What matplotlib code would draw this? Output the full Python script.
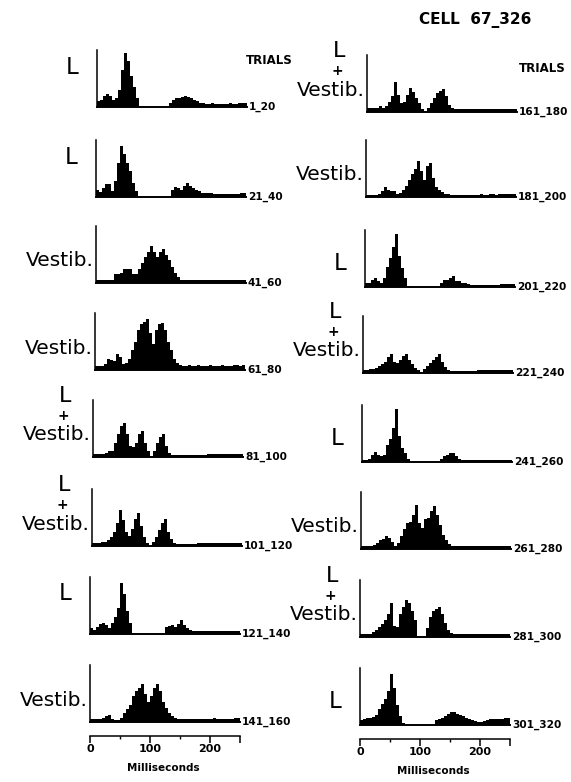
import numpy as np
import matplotlib
matplotlib.use("Agg")
import matplotlib.pyplot as plt

# Peri-stimulus histograms, 5 ms bins, 0-250 ms (height in arbitrary units, axis top = 20)
BIN_MS = 5
t_1_20 = [2, 2.5, 4, 4.5, 4, 2.5, 3, 6, 13, 19, 16, 11, 7, 3, 0.5,
          0, 0, 0, 0, 0, 0, 0, 0, 0,
          1.5, 2.5, 3, 3, 3.5, 4, 3.5, 3, 2.5, 2, 1.5, 1.5, 1, 1, 1.5, 1, 1, 1, 1, 1, 1.5, 1, 1, 1.5, 1.5, 1.5]
t_21_40 = [2.5, 1.8, 3, 4.5, 4.5, 2, 5.5, 12, 18, 15, 12, 9, 5, 2, 0,
           0, 0, 0, 0, 0, 0, 0, 0, 0, 0,
           2.5, 3.5, 3, 2.5, 4, 5, 4, 3, 2.5, 2, 1.5, 1.5, 1.5, 1.5, 1.2, 1.2, 1.2, 1, 1, 1, 1, 1, 1, 1.3, 1.3]
t_41_60 = [1, 1, 1, 1, 1, 1, 3, 3, 3.5, 5, 5, 5, 3, 3, 5, 7, 9, 11, 13, 11, 9, 11, 12, 10, 8, 5.5, 3.5, 2, 1,
           1, 0.9, 1, 1, 0.9, 1, 1, 1, 0.9, 1, 1, 1, 0.9, 1, 1, 1, 1, 1, 1, 1, 1.1]
t_61_80 = [1.5, 1.5, 1.5, 2, 4, 3.5, 3, 5.5, 4.5, 2, 2.5, 4, 7, 10, 14, 16, 17, 18, 13, 9, 14, 16, 16.5, 14, 10, 7, 4, 2.5, 1.8,
           1.5, 1.5, 1.8, 1.5, 1.5, 1.8, 1.5, 1.5, 1.5, 1.8, 1.5, 1.5, 1.5, 1.8, 1.5, 1.5, 1.5, 1.8, 1.8, 1.5, 1.8]
t_81_100 = [1, 1, 1.2, 1.2, 1.5, 2, 2, 5, 8, 11, 12, 8, 4, 3.5, 5, 8, 9, 5, 2, 0.5, 2, 5, 7, 8, 4, 1.5,
            0.7, 0.7, 0.7, 0.7, 0.7, 0.7, 0.7, 0.7, 0.7, 0.7, 0.7, 0.7,
            1.2, 1.2, 1, 1.2, 1.2, 1.2, 1, 1.2, 1.2, 1.2, 1.2, 1.2]
t_101_120 = [1, 1, 1.2, 1.5, 1.5, 2, 3, 5, 8, 12.5, 9, 5, 3.5, 6, 9.5, 11.5, 7, 3, 1, 0, 1.5, 3, 5.5, 8, 9.5, 5, 2.5, 1.2,
             0.8, 0.8, 0.8, 0.8, 0.8, 0.8, 0.8,
             1.2, 1.2, 1.2, 1, 1.2, 1.2, 1.2, 1.2, 1, 1.2, 1.2, 1.2, 1.2, 1.2, 1.2]
t_121_140 = [2, 1.5, 2.5, 3.5, 4, 3, 2, 4, 6, 9, 18, 14, 8, 4, 0.5,
             0, 0, 0, 0, 0, 0, 0, 0, 0, 0,
             2.5, 2.8, 3, 2.5, 3.5, 5, 3, 2, 1.5, 1.2,
             1, 1, 1, 1, 1, 1, 1, 1, 1, 1, 1, 1, 1, 1, 1]
t_141_160 = [1.2, 1.2, 1.2, 1.2, 1.5, 2, 2.5, 1.2, 0.7, 0.7, 1.5, 3, 4.5, 6, 9, 11, 12, 13.5, 10, 7, 9, 12, 13.5, 11, 7, 5, 3, 2, 1.5,
             1.2, 1.2, 1.2, 1.2, 1.2, 1.2, 1.2, 1.2, 1.2, 1.2, 1.2, 1.2, 1.5, 1.2, 1.2, 1.2, 1.2, 1.2, 1.2, 1.4, 1.4]

t_161_180 = [1.5, 1.5, 1.5, 1.5, 2.2, 1.5, 2, 3.5, 5.5, 10.5, 6, 3, 3.5, 6, 8.5, 7, 5, 3, 1, 0.3, 1.5, 3, 5, 6.5, 7.5, 8.2, 5.5, 2.5, 1.5,
             0.9, 0.9, 0.9, 0.9, 0.9, 0.9, 0.9, 0.9, 0.9, 0.9, 0.9, 0.9, 0.9, 0.9, 0.9, 0.9, 0.9, 0.9, 0.9, 0.9, 0.9]
t_181_200 = [0.8, 0.8, 0.8, 0.8, 1, 2, 3.5, 2.5, 2, 2, 1.2, 1.5, 2.5, 4, 6, 8, 10, 12.5, 9, 6, 11, 12, 6.5, 3.5, 2.5, 1.8, 1.2, 1,
             0.8, 0.8, 0.8, 0.8, 0.8, 0.8, 0.8, 0.8, 0.8, 0.8, 1, 0.8, 0.8, 1, 1, 0.8, 1, 1, 1, 1, 1, 1]
t_201_220 = [1.5, 1.5, 2.5, 3, 2, 1.5, 3, 7, 10, 14, 18.5, 11, 6.5, 3, 0.5,
             0, 0, 0, 0, 0, 0, 0, 0, 0, 0,
             1.5, 2.5, 2.5, 3, 4, 2.2, 2, 1.5, 1.5, 1.2,
             0.8, 0.8, 0.8, 0.8, 0.8, 0.8, 0.8, 0.8, 0.8, 0.8, 1.2, 1.2, 1.2, 1.2, 1.2]
t_221_240 = [1.2, 1.2, 1.5, 1.5, 1.8, 2.5, 3, 4, 5.5, 6.5, 4, 3.5, 4.5, 6, 6.5, 4.5, 3, 1.8, 1, 0.3, 1.5, 2.5, 3.5, 4.5, 5.5, 6.5, 4, 2, 1,
             0.6, 0.6, 0.6, 0.6, 0.6, 0.6, 0.6, 0.6, 0.6,
             1, 1, 1, 1, 1, 1, 1, 1, 1, 1, 1, 1]
t_241_260 = [0.8, 0.8, 1.2, 2.5, 3.5, 2.5, 2, 2.5, 6, 8, 12, 18.5, 9, 5, 3, 1,
             0, 0, 0, 0, 0, 0, 0, 0, 0, 0,
             1, 2, 2.5, 3, 3, 2, 1.2,
             0.8, 0.8, 0.8, 0.8, 0.8, 0.8, 0.8, 0.8, 0.8, 0.8, 0.8, 0.8, 0.8, 0.8, 0.8, 0.8, 0.8]
t_261_280 = [1, 1, 1, 1, 1.5, 2.2, 3, 3.5, 4.5, 4, 2.5, 1.2, 2, 4.5, 7, 9, 9.5, 12, 15.5, 9, 7.5, 10.5, 11, 13.5, 15, 12, 8.5, 5, 3, 1.8, 1.2,
             1, 1, 1, 1, 1, 1, 1, 1, 1, 1, 1, 1, 1, 1, 1, 1, 1, 1, 1]
t_281_300 = [1.2, 1.2, 1.2, 1.2, 1.8, 2.5, 3.5, 4.5, 6, 8, 12, 4, 3.5, 8, 10.5, 13, 12, 9, 6, 0.5, 0, 0, 3, 7, 9, 10, 10.4, 8, 5, 2.5, 1.5,
             0.9, 0.9, 0.9, 1.2, 0.9, 0.9, 0.9, 1.2, 0.9, 0.9, 0.9, 0.9, 1.2, 0.9, 0.9, 0.9, 0.9, 0.9, 0.9]
t_301_320 = [1.8, 2.2, 2.5, 2.5, 2.8, 3.5, 5.5, 7.5, 9, 12, 18, 13, 7, 3, 0.8,
             0, 0, 0, 0, 0, 0, 0, 0, 0, 0,
             1.8, 2, 2.5, 3, 4, 4.5, 4.5, 4, 3.5, 3, 2.5, 2.2, 1.8, 1.5, 1.2, 1.2, 1.5, 1.8, 2, 2, 2.2, 2.2, 2.2, 2.4, 2.4]

left_hists = [t_1_20, t_21_40, t_41_60, t_61_80, t_81_100, t_101_120, t_121_140, t_141_160]
right_hists = [t_161_180, t_181_200, t_201_220, t_221_240, t_241_260, t_261_280, t_281_300, t_301_320]
left_trials = ["1_20", "21_40", "41_60", "61_80", "81_100", "101_120", "121_140", "141_160"]
right_trials = ["161_180", "181_200", "201_220", "221_240", "241_260", "261_280", "281_300", "301_320"]
left_stim = ["L", "L", "Vestib.", "Vestib.", "L+Vestib.", "L+Vestib.", "L", "Vestib."]
right_stim = ["L+Vestib.", "Vestib.", "L", "L+Vestib.", "L", "Vestib.", "L+Vestib.", "L"]
tick_vals = [0, 100, 200, 250]
tick_labels = ["0", "100", "200", ""]

# page layout in pixels
W, H = 571, 782
PW, PH = 150, 57
left_x0 = [97, 96, 96, 95, 93, 92, 90, 90]
left_base = [107, 197, 283, 370, 457, 546, 634, 722]
right_x0 = [367, 366, 365, 363, 362, 361, 360, 360]
right_base = [112, 197, 287, 373, 462, 549, 637, 725]

fig = plt.figure(figsize=(W / 100, H / 100), dpi=100)
FONT = "DejaVu Sans"


def ftext(x, y, s, **kw):
    kw.setdefault("family", FONT)
    fig.text(x / W, 1 - y / H, s, **kw)


def panel(x0, base, counts, trial, stim, col, last):
    ax = fig.add_axes([x0 / W, 1 - base / H, PW / W, PH / H])
    edges = np.arange(len(counts) + 1) * BIN_MS
    ax.stairs(counts, edges, fill=True, color="black", lw=0)
    ax.axhline(0, color="black", lw=1.4, clip_on=False)
    ax.set_xlim(0, 250)
    ax.set_ylim(0, 20)
    ax.patch.set_alpha(0)
    for s in ["top", "right"]:
        ax.spines[s].set_visible(False)
    ax.spines["left"].set_linewidth(1.1)
    ax.set_yticks([])
    if last:
        ax.spines["bottom"].set_position(("outward", 10))
        ax.spines["bottom"].set_linewidth(1.1)
        ax.set_xticks(tick_vals)
        ax.set_xticklabels(tick_labels, fontsize=8, fontweight="bold", family=FONT)
        ax.set_xticks([50, 150], minor=True)
        ax.tick_params(axis="x", which="major", length=5, width=1.1, pad=1)
        ax.tick_params(axis="x", which="minor", length=2, width=1)
        ftext(x0 + 73, base + 46, "Milliseconds", fontsize=7.5, fontweight="bold",
              ha="center", va="center")
    else:
        ax.spines["bottom"].set_visible(False)
        ax.set_xticks([])

    ftext(x0 + PW + 2, base, trial, fontsize=7.6, fontweight="bold", ha="left", va="center")

    if stim == "L":
        dy = 40 if col == 0 else 23
        ftext(x0 - 25, base - dy, "L", fontsize=16.5, ha="center", va="center")
    else:
        ftext(x0 - 2, base - 22, "Vestib.", fontsize=14.5, ha="right", va="center")
        if stim.startswith("L+"):
            ftext(x0 - 30, base - 41, "+", fontsize=10, fontweight="bold", ha="center", va="center")
            ftext(x0 - 28, base - 61, "L", fontsize=16, ha="center", va="center")


for i in range(8):
    panel(left_x0[i], left_base[i], left_hists[i], left_trials[i], left_stim[i], 0, i == 7)
    panel(right_x0[i], right_base[i], right_hists[i], right_trials[i], right_stim[i], 1, i == 7)

ftext(475, 20, "CELL  67_326", fontsize=11, fontweight="bold", ha="center", va="center")
ftext(269, 61, "TRIALS", fontsize=8.5, fontweight="bold", ha="center", va="center")
ftext(542, 68, "TRIALS", fontsize=8.5, fontweight="bold", ha="center", va="center")

fig.savefig("out.png", dpi=100, facecolor="white")
